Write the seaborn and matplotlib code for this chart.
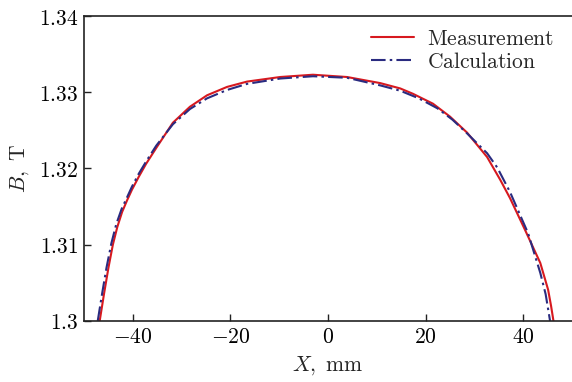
import seaborn as sns
import pandas as pd
import matplotlib.pyplot as plt
from matplotlib.ticker import FuncFormatter

# measured field profile
meas_x = [-46.8, -45.9, -45.0, -44.1, -43.2, -42.2, -41.2, -40.2, -38.8, -37.3,
          -35.1, -31.8, -28.3, -24.8, -20.7, -16.6, -9.8, -3.1, 3.9, 10.7,
          14.8, 17.4, 21.5, 25.0, 28.5, 32.6, 35.3, 37.3, 40.4, 43.5,
          45.1, 45.7, 46.2]
meas_b = [1.3000, 1.3036, 1.3070, 1.3100, 1.3123, 1.3143, 1.3158, 1.3172, 1.3189, 1.3206,
          1.3228, 1.3260, 1.3281, 1.3296, 1.3307, 1.3314, 1.3320, 1.3323, 1.3320, 1.3312,
          1.3305, 1.3298, 1.3285, 1.3268, 1.3247, 1.3215, 1.3185, 1.3161, 1.3119, 1.3076,
          1.3041, 1.3020, 1.3000]

# calculated field profile
calc_x = [-47.2, -46.3, -45.4, -44.4, -43.4, -42.3, -41.2, -40.2, -38.8, -37.3,
          -35.2, -31.8, -28.3, -24.8, -20.7, -16.6, -9.8, -3.1, 3.9, 10.7,
          14.8, 18.6, 22.4, 25.5, 28.5, 32.6, 34.7, 37.3, 41.0, 43.5,
          44.6, 45.5]
calc_b = [1.3000, 1.3036, 1.3070, 1.3102, 1.3127, 1.3147, 1.3162, 1.3176, 1.3193, 1.3209,
          1.3230, 1.3258, 1.3278, 1.3292, 1.3303, 1.3311, 1.3318, 1.3321, 1.3319, 1.3309,
          1.3302, 1.3292, 1.3279, 1.3264, 1.3246, 1.3220, 1.3201, 1.3169, 1.3115, 1.3063,
          1.3035, 1.3000]

x_ticks = [-40, -20, 0, 20, 40]
y_ticks = [1.30, 1.31, 1.32, 1.33, 1.34]

df = pd.concat([
    pd.DataFrame({'X': meas_x, 'B': meas_b, 'series': r'$\mathrm{Measurement}$'}),
    pd.DataFrame({'X': calc_x, 'B': calc_b, 'series': r'$\mathrm{Calculation}$'}),
])

sns.set_style('ticks')
plt.rcParams['mathtext.fontset'] = 'cm'
plt.rcParams['font.family'] = ['DejaVu Serif']
plt.rcParams['xtick.direction'] = 'in'
plt.rcParams['ytick.direction'] = 'in'

fig = plt.figure(figsize=(5.72, 3.82), dpi=100)
ax = fig.add_axes([0.147, 0.16, 0.853, 0.798])

sns.lineplot(data=df, x='X', y='B', hue='series', style='series', sort=False,
             palette=['#d7191f', '#2a2b80'],
             dashes=[(None, None), (7, 2, 1.2, 2)], linewidth=1.5, ax=ax)

ax.set_xlim(-50, 50)
ax.set_ylim(1.30, 1.34)
ax.set_xticks(x_ticks)
ax.set_yticks(y_ticks)
fmt = FuncFormatter(lambda v, _: f'${v:g}$')
ax.xaxis.set_major_formatter(fmt)
ax.yaxis.set_major_formatter(fmt)
ax.tick_params(labelsize=15.5, length=5, width=1, color='#222222',
               labelcolor='black', pad=4)
for s in ['left', 'bottom', 'top']:
    ax.spines[s].set_linewidth(1.2)
    ax.spines[s].set_color('#222222')
ax.spines['right'].set_visible(False)

ax.set_xlabel(r'$X,\ \mathrm{mm}$', fontsize=15.5, labelpad=4)
ax.set_ylabel(r'$B,\ \mathrm{T}$', fontsize=15.5, labelpad=6)

leg = ax.legend(loc='upper right', bbox_to_anchor=(0.988, 1.0), frameon=False,
                fontsize=15.5, handlelength=2.0, handletextpad=0.6,
                labelspacing=0.05, borderaxespad=0.15)

fig.savefig('out.png', dpi=100)
